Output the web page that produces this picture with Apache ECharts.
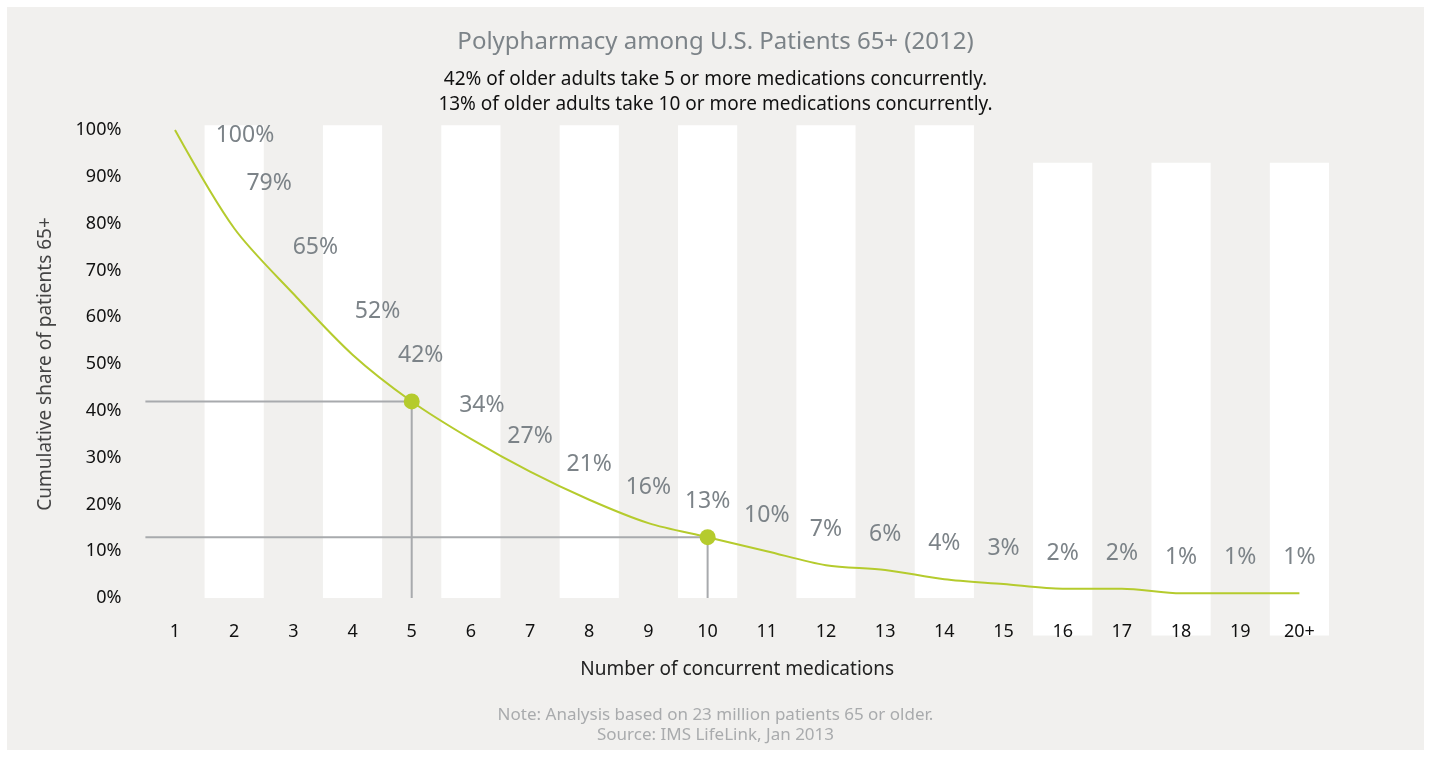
<!DOCTYPE html>
<html>
<head>
<meta charset="utf-8">
<script src="https://cdn.jsdelivr.net/npm/echarts@6/dist/echarts.min.js"></script>
<style>
  html, body { margin: 0; padding: 0; background: #fff; }
  #chart { position: absolute; left: 7px; top: 7px; width: 1417px; height: 743px; background: #f1f0ee; }
</style>
</head>
<body>
<div id="chart"></div>
<script>
// number of concurrent medications
const categories = ['1', '2', '3', '4', '5', '6', '7', '8', '9', '10',
  '11', '12', '13', '14', '15', '16', '17', '18', '19', '20+']
// cumulative share of patients 65+ (%)
const shares = [100, 79, 65, 52, 42, 34, 27, 21, 16, 13, 10, 7, 6, 4, 3, 2, 2, 1, 1, 1]
const yTicks = [0, 10, 20, 30, 40, 50, 60, 70, 80, 90, 100]
// highlighted thresholds: 5+ and 10+ medications
const highlights = ['5', '10']

const font = 'Noto Sans'
const green = '#b5cb2d'
const grey = '#7c8388'

// label nudges for the steep part of the curve
const labelNudge = { 0: [70, 41], 1: [35, -9], 2: [22, -11], 3: [25, -8], 4: [9, -10], 5: [11, 2] }

let myChart = echarts.init(document.getElementById('chart'))
myChart.setOption({
  animation: false,
  textStyle: { fontFamily: font },
  title: [
    {
      text: 'Polypharmacy among U.S. Patients 65+ (2012)',
      left: 'center', top: 18,
      textStyle: { fontFamily: font, fontSize: 24, fontWeight: 'normal', color: grey }
    },
    {
      text: '42% of older adults take 5 or more medications concurrently.\n13% of older adults take 10 or more medications concurrently.',
      left: 'center', top: 55,
      textStyle: { fontFamily: font, fontSize: 19, fontWeight: 'normal', color: '#111', lineHeight: 25 }
    },
    {
      text: 'Note: Analysis based on 23 million patients 65 or older.\nSource: IMS LifeLink, Jan 2013',
      left: 'center', top: 693,
      textStyle: { fontFamily: font, fontSize: 17, fontWeight: 'normal', color: '#a9abad', lineHeight: 20 }
    }
  ],
  grid: { left: 138.4, right: 95, top: 123, bottom: 152, containLabel: false },
  xAxis: {
    type: 'category',
    data: categories,
    z: 10,
    name: 'Number of concurrent medications',
    nameLocation: 'middle',
    nameGap: 62,
    nameTextStyle: { fontFamily: font, fontSize: 19, color: '#222' },
    axisLine: { show: false },
    axisTick: { show: false },
    axisLabel: { margin: 25, fontFamily: font, fontSize: 18, color: '#111' },
    splitLine: { show: false }
  },
  yAxis: {
    type: 'value',
    min: yTicks[0],
    max: yTicks[yTicks.length - 1],
    interval: 10,
    name: 'Cumulative share of patients 65+',
    nameLocation: 'middle',
    nameGap: 90,
    nameTextStyle: { fontFamily: font, fontSize: 19, color: '#444' },
    axisLine: { show: false },
    axisTick: { show: false },
    splitLine: { show: false },
    axisLabel: { margin: 24, fontFamily: font, fontSize: 18, color: '#111', formatter: '{value}%' }
  },
  series: [
    {
      // alternating white bands
      type: 'custom',
      z: 1,
      silent: true,
      data: categories.map((c, i) => [i, 0]).filter(d => d[0] % 2 === 1),
      renderItem: function (params, api) {
        const idx = api.value(0)
        const ext = idx >= 15 ? [93, -8] : [101, 0]
        const top = api.coord([idx, ext[0]])
        const bottom = api.coord([idx, ext[1]])
        const w = api.size([1, 0])[0]
        return {
          type: 'rect',
          shape: { x: top[0] - w / 2, y: top[1], width: w, height: bottom[1] - top[1] },
          style: { fill: '#fff' }
        }
      }
    },
    {
      type: 'line',
      z: 3,
      data: shares.map((v, i) => ({
        value: v,
        label: labelNudge[i] ? { offset: labelNudge[i] } : undefined
      })),
      smooth: 0.3,
      showSymbol: true,
      symbol: 'circle',
      symbolSize: 0,
      lineStyle: { color: green, width: 2 },
      itemStyle: { color: green },
      label: {
        show: true,
        position: 'top',
        distance: 24,
        fontFamily: font,
        fontSize: 23,
        color: grey,
        formatter: p => p.value + '%'
      }
    },
    {
      // reference lines and dots at the thresholds
      type: 'custom',
      z: 4,
      silent: true,
      data: highlights.map(h => {
        const i = categories.indexOf(h)
        return [i, shares[i]]
      }),
      renderItem: function (params, api) {
        const p = api.coord([api.value(0), api.value(1)])
        const base = api.coord([api.value(0), 0])
        const left = params.coordSys.x
        return {
          type: 'group',
          children: [
            {
              type: 'polyline',
              shape: { points: [[left, p[1]], [p[0], p[1]], [p[0], base[1]]] },
              style: { stroke: '#a8aaad', lineWidth: 2, fill: null }
            },
            {
              type: 'circle',
              shape: { cx: p[0], cy: p[1], r: 8 },
              style: { fill: green }
            }
          ]
        }
      }
    }
  ]
})
window.addEventListener('resize', function () {
  myChart.resize()
})
</script>
</body>
</html>
